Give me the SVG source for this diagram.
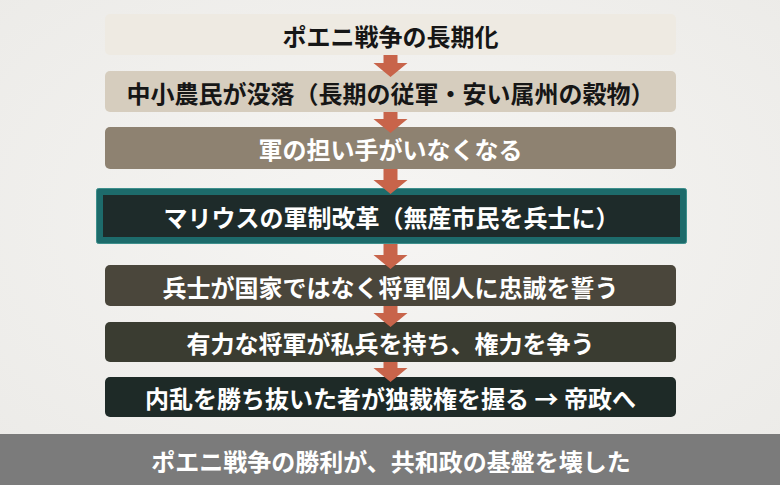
<svg xmlns="http://www.w3.org/2000/svg" width="780" height="485" viewBox="0 0 780 485">
<defs>
<style>
.t{font-family:"Noto Sans CJK JP","Noto Sans",sans-serif;font-size:24px;font-weight:700;text-anchor:middle;dominant-baseline:central}
.dk{fill:#161616}
.lt{fill:#ffffff}
.arr{fill:#c8644a}
</style>
<radialGradient id="bg" cx="50%" cy="45%" r="70%">
<stop offset="0" stop-color="#f6f5f3"/>
<stop offset="1" stop-color="#ecebe8"/>
</radialGradient>
</defs>
<rect x="0" y="0" width="780" height="485" fill="url(#bg)"/>
<g id="n1"><rect x="105" y="14" width="571" height="41" rx="5" fill="#eeeae2"/><text class="t dk" x="390.5" y="35">ポエニ戦争の長期化</text></g>
<g id="n2"><rect x="105" y="71" width="571" height="41" rx="5" fill="#d6cdbe"/><text class="t dk" x="390.5" y="92">中小農民が没落（長期の従軍・安い属州の穀物）</text></g>
<g id="n3"><rect x="105" y="127" width="571" height="42" rx="5" fill="#8e8271"/><text class="t lt" x="390.5" y="148.5">軍の担い手がいなくなる</text></g>
<g id="n4"><rect x="96.5" y="188.5" width="590" height="55" rx="2" fill="#1d6b6b" stroke="#3e8f8c" stroke-width="1"/><rect x="103" y="195" width="577" height="42" fill="#1e2b2a"/><text class="t lt" x="391.5" y="216.5">マリウスの軍制改革（無産市民を兵士に）</text></g>
<g id="n5"><rect x="105" y="265" width="571" height="41" rx="5" fill="#4a463b"/><text class="t lt" x="390.5" y="286">兵士が国家ではなく将軍個人に忠誠を誓う</text></g>
<g id="n6"><rect x="105" y="322" width="571" height="40" rx="5" fill="#3a3c31"/><text class="t lt" x="390.5" y="342.5">有力な将軍が私兵を持ち、権力を争う</text></g>
<g id="n7"><rect x="105" y="377" width="571" height="40" rx="5" fill="#1e2a27"/><text class="t lt" x="390.5" y="397.5">内乱を勝ち抜いた者が独裁権を握る → 帝政へ</text></g>
<g id="connectors">
<path class="arr" d="M383.5 55 H397.5 V63 H407.5 L390.5 77 L373.5 63 H383.5 Z"/>
<path class="arr" d="M383.5 112 H397.5 V119 H407.5 L390.5 133 L373.5 119 H383.5 Z"/>
<path class="arr" d="M383.5 169 H397.5 V180 H407.5 L390.5 194 L373.5 180 H383.5 Z"/>
<path class="arr" d="M383.5 244 H397.5 V255 H407.5 L390.5 269 L373.5 255 H383.5 Z"/>
<path class="arr" d="M383.5 306 H397.5 V313 H407.5 L390.5 327 L373.5 313 H383.5 Z"/>
<path class="arr" d="M383.5 362 H397.5 V368 H407.5 L390.5 382 L373.5 368 H383.5 Z"/>
</g>
<g id="footer"><rect x="0" y="434" width="780" height="51" fill="#7b7b7b"/><text class="t lt" x="391" y="460">ポエニ戦争の勝利が、共和政の基盤を壊した</text></g>
</svg>
